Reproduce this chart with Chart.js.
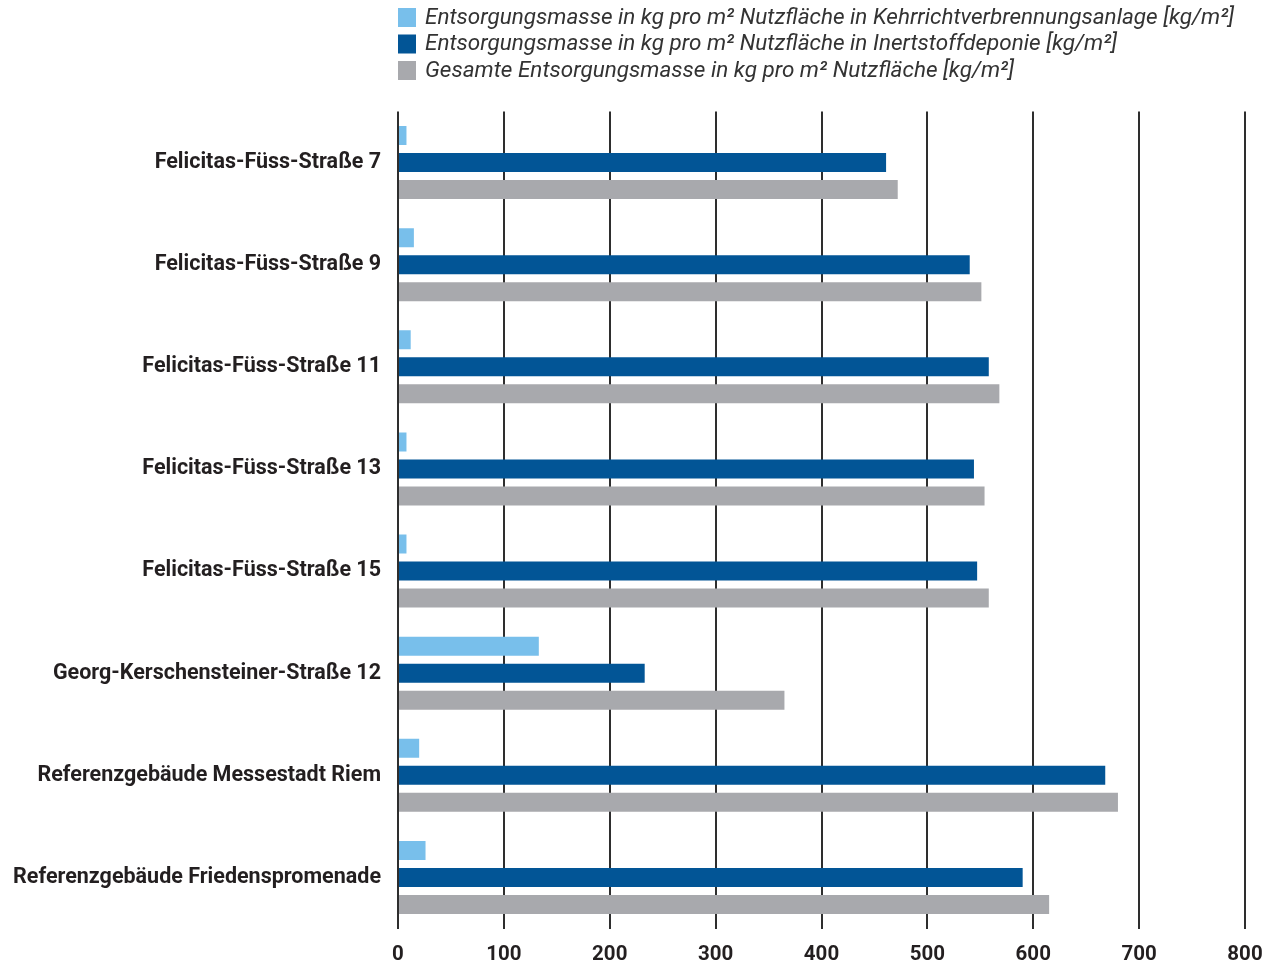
<!DOCTYPE html>
<html lang="de">
<head>
<meta charset="utf-8">
<title>Entsorgungsmasse pro m² Nutzfläche</title>
<script src="https://cdn.jsdelivr.net/npm/chart.js@4.4.1/dist/chart.umd.min.js"></script>
<style>
  html, body { margin: 0; padding: 0; background: #ffffff; }
  #wrap { position: relative; width: 1271px; height: 964px; }
</style>
</head>
<body>
<div id="wrap"><canvas id="chart" width="1271" height="964"></canvas></div>
<script>
// Gebäude (Kategorien)
const buildings = [
  'Felicitas-Füss-Straße 7',
  'Felicitas-Füss-Straße 9',
  'Felicitas-Füss-Straße 11',
  'Felicitas-Füss-Straße 13',
  'Felicitas-Füss-Straße 15',
  'Georg-Kerschensteiner-Straße 12',
  'Referenzgebäude Messestadt Riem',
  'Referenzgebäude Friedenspromenade'
];

// Serienbezeichnungen
const seriesNames = [
  'Entsorgungsmasse in kg pro m² Nutzfläche in Kehrrichtverbrennungsanlage [kg/m²]',
  'Entsorgungsmasse in kg pro m² Nutzfläche in Inertstoffdeponie [kg/m²]',
  'Gesamte Entsorgungsmasse in kg pro m² Nutzfläche [kg/m²]'
];

// Werte in kg/m²
const kehrrichtVerbrennung = [8, 15, 12, 8, 8, 133, 20, 26];
const inertstoffDeponie    = [461, 540, 558, 544, 547, 233, 668, 590];
const gesamt               = [472, 551, 568, 554, 558, 365, 680, 615];

// Achsenbeschriftung
const xTicks = [0, 100, 200, 300, 400, 500, 600, 700, 800];

const colors = ['#78bfeb', '#025596', '#a8a9ad'];
const textColor = '#231f20';
const labelFont = 'Roboto';

// Legende oberhalb der Zeichenfläche, linksbündig zur Nulllinie
const topLegend = {
  id: 'topLegend',
  afterDraw(chart) {
    const ctx = chart.ctx;
    const x0 = chart.chartArea.left;
    ctx.save();
    chart.data.datasets.forEach((ds, i) => {
      const y = 8 + i * 26.5;
      ctx.fillStyle = ds.backgroundColor;
      ctx.fillRect(x0, y, 18, 19);
      ctx.fillStyle = '#333333';
      ctx.font = 'italic 22.5px ' + labelFont;
      ctx.textBaseline = 'middle';
      ctx.textAlign = 'left';
      ctx.fillText(ds.label, x0 + 27, y + 10);
    });
    ctx.restore();
  }
};

new Chart(document.getElementById('chart'), {
  type: 'bar',
  data: {
    labels: buildings,
    datasets: [
      { label: seriesNames[0], data: kehrrichtVerbrennung, backgroundColor: colors[0] },
      { label: seriesNames[1], data: inertstoffDeponie, backgroundColor: colors[1] },
      { label: seriesNames[2], data: gesamt, backgroundColor: colors[2] }
    ]
  },
  options: {
    indexAxis: 'y',
    responsive: false,
    animation: false,
    devicePixelRatio: 1,
    categoryPercentage: 0.792,
    barPercentage: 0.703,
    layout: { padding: { top: 111.5, right: 26, bottom: 0, left: 0 } },
    plugins: {
      legend: { display: false },
      tooltip: { enabled: false }
    },
    scales: {
      x: {
        min: 0,
        max: 800,
        afterBuildTicks(scale) {
          scale.ticks = xTicks.map(v => ({ value: v }));
        },
        afterFit(scale) {
          scale.height = 35.5;
          scale.paddingLeft = 0;
          scale.paddingRight = 0;
        },
        grid: { color: '#2e2e2e', lineWidth: 2, drawTicks: false },
        border: { display: false },
        ticks: {
          padding: 14.5,
          color: textColor,
          font: { family: labelFont, size: 20.5, weight: 'bold' }
        }
      },
      y: {
        afterFit(scale) { scale.width = 398; },
        grid: { display: false, drawTicks: false },
        border: { display: false },
        ticks: {
          padding: 17,
          color: textColor,
          font: { family: labelFont, size: 21.5, weight: 'bold' }
        }
      }
    }
  },
  plugins: [topLegend]
});
</script>
</body>
</html>
